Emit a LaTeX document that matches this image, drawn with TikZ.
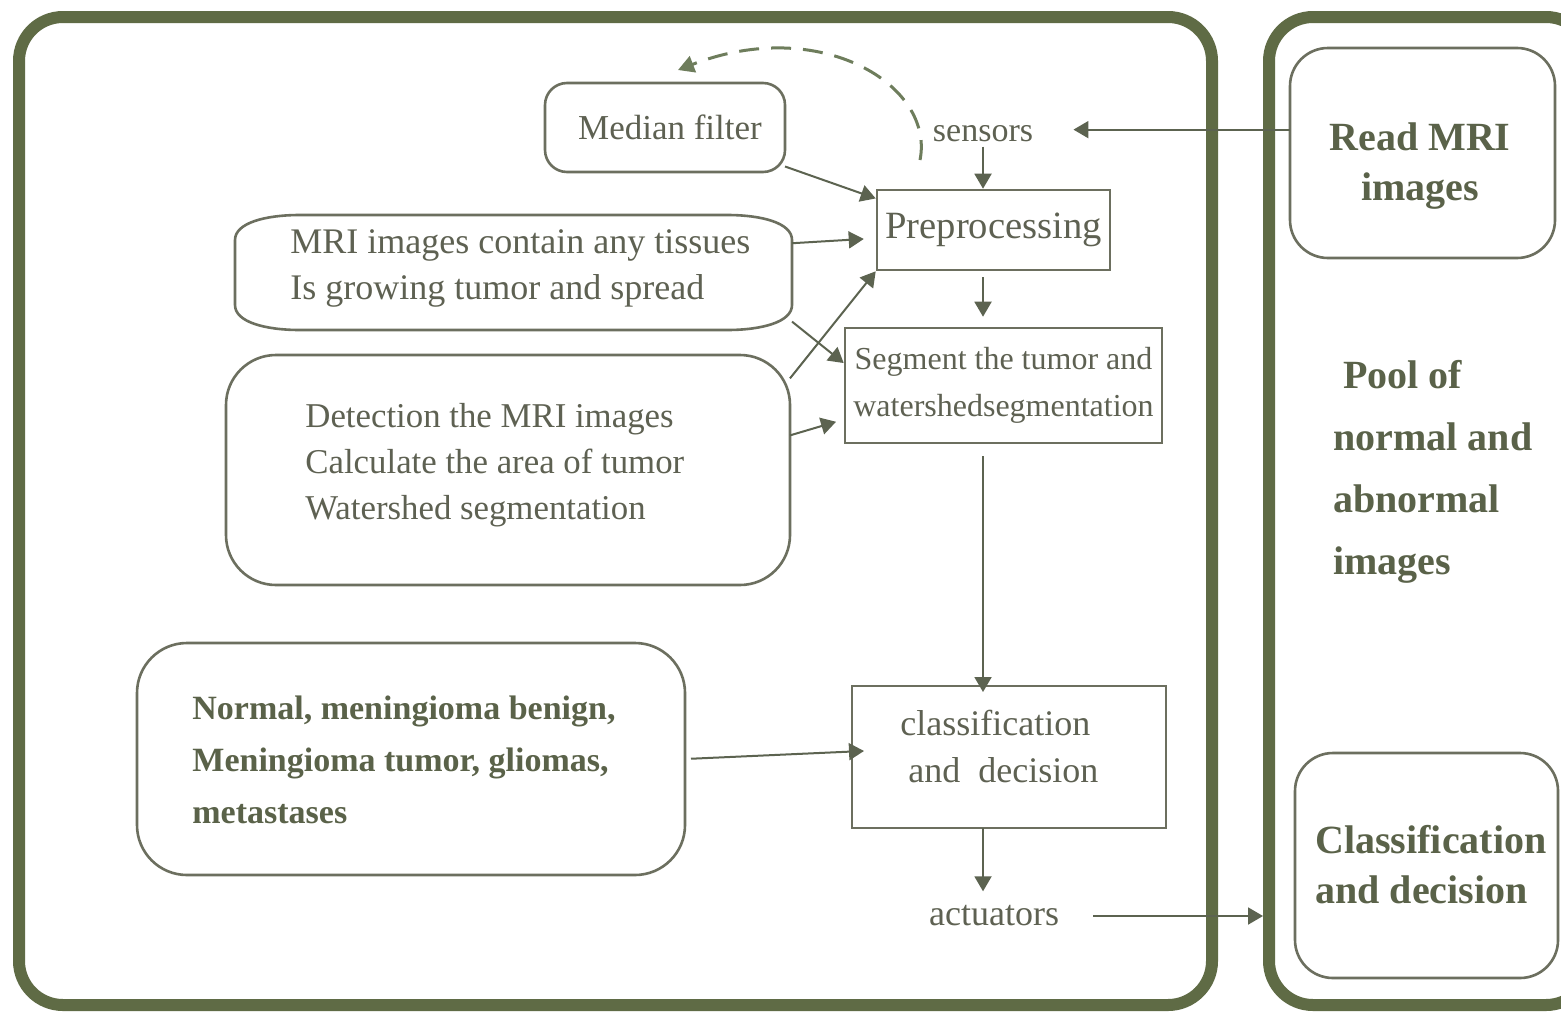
\documentclass[tikz,border=0pt]{standalone}
\usepackage{fontspec}
\setmainfont{Liberation Serif}
\usetikzlibrary{arrows.meta,calc}

\definecolor{framegreen}{HTML}{5F6B45}
\definecolor{boxline}{HTML}{6C6F5F}
\definecolor{wire}{HTML}{5C6350}
\definecolor{ink}{HTML}{5E6152}
\definecolor{boldink}{HTML}{5A6249}
\definecolor{loopgreen}{HTML}{6E7D5C}

\newcommand\setfs[2]{\fontsize{#1}{#2}\selectfont}

\begin{document}
\begin{tikzpicture}[x=0.5pt,y=-0.5pt,
  frame/.style={draw=framegreen, line width=6pt, rounded corners=22pt, inner sep=0pt},
  boxpen/.style={draw=boxline, line width=1.3pt},
  sbox/.style={boxpen, inner sep=0pt, text=ink},
  rbox/.style={boxpen, inner sep=0pt, outer sep=0pt},
  txt/.style={inner sep=0pt, text=ink},
  boldtxt/.style={inner sep=0pt, text=boldink},
  conn/.style={draw=wire, line width=1pt, -{Triangle[length=7.5pt,width=8.5pt]}},
  loopback/.style={draw=loopgreen, line width=1.5pt, dash pattern=on 10pt off 6pt,
    -{Triangle[length=8pt,width=8.5pt]}}
]
\useasboundingbox (0,0) rectangle (1561,1012);
\fill[white] (0,0) rectangle (1561,1012);
\clip (0,0) rectangle (1561,1012);

% outer frames
\node[frame, minimum width=596.5pt, minimum height=494pt] (lframe) at (615.5,511) {};
\node[frame, minimum width=160.5pt, minimum height=494pt] (rframe) at (1429.5,511) {};

% right column
\node[rbox, rounded corners=19pt, minimum width=132.5pt, minimum height=105pt] (readmri) at (1422.5,153) {};
\node[boldtxt, align=center, font=\bfseries\setfs{20}{25}] (readtxt) at (1420,166) {Read MRI\\images};
\node[boldtxt, align=left, anchor=west, font=\bfseries\setfs{20}{31}] (pool) at (1333,472)
  {\hspace*{5pt}Pool of\\normal and\\abnormal\\images};
\node[rbox, rounded corners=19pt, minimum width=131.5pt, minimum height=112.5pt] (clsr) at (1426.5,865.5) {};
\node[boldtxt, align=left, anchor=west, font=\bfseries\setfs{20}{25}] (clsrtxt) at (1315,865)
  {Classification\\and decision};

% processing chain
\node[rbox, rounded corners=11pt, minimum width=120pt, minimum height=44.5pt, text=ink,
  font=\setfs{17.5}{21}] (median) at (665,127.5) {\hspace*{5pt}Median filter};
\node[txt, font=\setfs{17}{20}] (sensors) at (983,134) {sensors};
\node[sbox, minimum width=116.5pt, minimum height=40pt, font=\setfs{19.3}{24}] (prep) at (993.5,230) {Preprocessing};

\node[inner sep=0pt, outer sep=0pt, minimum width=278.5pt, minimum height=57.5pt] (mri) at (513.5,272.5) {};
\draw[boxpen] ($(mri.north west)+(0,25)$) .. controls ($(mri.north west)+(0,8)$) and ($(mri.north west)+(30,0)$) .. ($(mri.north west)+(65,0)$)
  -- ($(mri.north east)+(-65,0)$) .. controls ($(mri.north east)+(-30,0)$) and ($(mri.north east)+(0,8)$) .. ($(mri.north east)+(0,25)$)
  -- ($(mri.south east)+(0,-25)$) .. controls ($(mri.south east)+(0,-8)$) and ($(mri.south east)+(-30,0)$) .. ($(mri.south east)+(-65,0)$)
  -- ($(mri.south west)+(65,0)$) .. controls ($(mri.south west)+(30,0)$) and ($(mri.south west)+(0,-8)$) .. ($(mri.south west)+(0,-25)$)
  -- cycle;
\node[txt, align=left, anchor=west, font=\setfs{18}{23}] (mritxt) at (290,268)
  {MRI images contain any tissues\\Is growing tumor and spread};

\node[sbox, minimum width=158.5pt, minimum height=57.5pt, align=center, font=\setfs{16}{23.5}] (seg) at (1003.5,385.5)
  {Segment the tumor and\\watershedsegmentation};

\node[rbox, rounded corners=25pt, minimum width=282pt, minimum height=115pt] (det) at (508,470) {};
\node[txt, align=left, anchor=west, font=\setfs{17.4}{23}] (dettxt) at (305,465.5)
  {Detection the MRI images\\Calculate the area of tumor\\Watershed segmentation};

\node[rbox, rounded corners=25pt, minimum width=274pt, minimum height=116pt] (normal) at (411,759) {};
\node[boldtxt, align=left, anchor=west, font=\bfseries\setfs{17}{26}] (normtxt) at (192,760)
  {Normal, meningioma benign,\\Meningioma tumor, gliomas,\\metastases};

\node[rbox, minimum width=157pt, minimum height=71pt] (cls) at (1009,757) {};
\node[txt, align=left, anchor=west, font=\setfs{18}{23.5}] (clstxt) at (900,746)
  {classification\\\hspace*{4pt}and\ \ decision};

\node[txt, font=\setfs{18}{22}] (act) at (994,916) {actuators};

% connectors
\draw[conn, shorten >=20pt] (readmri.170) -- (sensors.east |- readmri.170);
\draw[conn, shorten <=2pt] (sensors.south) -- (sensors.south |- prep.north);
\draw[conn] (median.-18) -- (prep.165);
\draw[conn, shorten >=6pt] (mri.6) -- (prep.184);
\draw[conn] (mri.-10) -- (seg.172);
\draw[conn] (det.18) -- (prep.south west);
\draw[conn, shorten >=4pt] (det.7) -- (seg.192);
\draw[conn, shorten <=3pt, shorten >=5pt] (prep.south -| sensors.south) -- (seg.north -| sensors.south);
\draw[conn, shorten <=6pt, shorten >=-3pt] (seg.south -| sensors.south) -- (cls.north -| sensors.south);
\draw[conn, shorten <=3pt, shorten >=-6pt] (normal.east) -- (cls.178);
\draw[conn, shorten >=7pt] (cls.south -| sensors.south) -- (act.north -| sensors.south);
\draw[conn, shorten <=17pt] (act.east) -- (act.east -| rframe.west);

% feedback loop from the sensors back to the filter
\coordinate (loopstart) at (920,160);
\coordinate (loopend) at (678,70);
\draw[loopback] (loopstart) .. controls (935,85) and (820,15) .. (loopend);
\end{tikzpicture}
\end{document}
